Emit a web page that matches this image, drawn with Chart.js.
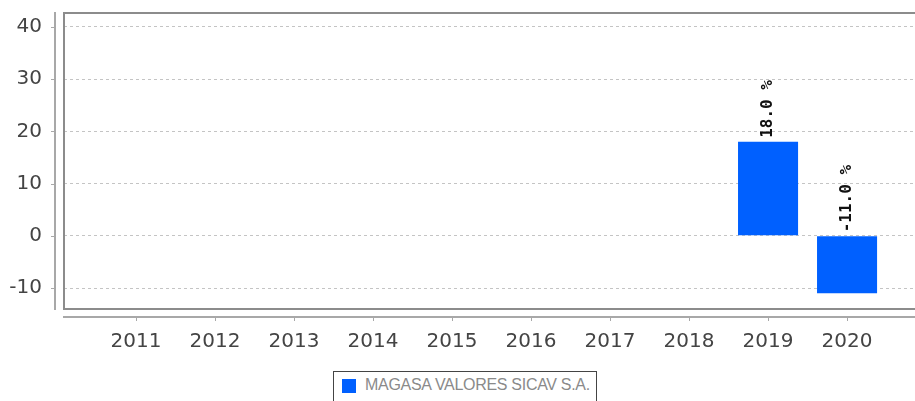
<!DOCTYPE html>
<html><head><meta charset="utf-8">
<script src="https://cdn.jsdelivr.net/npm/chart.js@4.4.0/dist/chart.umd.min.js"></script>
<style>
html,body{margin:0;padding:0;background:#fff;overflow:hidden}
#wrap{position:relative;width:915px;height:401px}
#c{position:absolute;left:0;top:0}
#legend{position:absolute;left:333px;top:371px;width:264px;height:40px;border:1px solid #444;box-sizing:border-box;font-family:"Liberation Sans",Arial,sans-serif;font-size:16px;letter-spacing:-0.3px;color:#8a8a8a;background:#fff}
#legend .sw{position:absolute;left:8px;top:7px;width:14px;height:14px;background:#0060ff}
#legend .tx{position:absolute;left:31px;top:4px;white-space:nowrap}
</style></head>
<body><div id="wrap"><canvas id="c" width="915" height="401"></canvas><div id="legend"><span class="sw"></span><span class="tx" id="lgtx"></span></div></div>
<script>
const years = [2011, 2012, 2013, 2014, 2015, 2016, 2017, 2018, 2019, 2020];
const values = [null, null, null, null, null, null, null, null, 18.0, -11.0];
const yTicks = [-10, 0, 10, 20, 30, 40];
const seriesName = 'MAGASA VALORES SICAV S.A.';

document.getElementById('lgtx').textContent = seriesName;

const decor = {
  id: 'decor',
  beforeDraw(chart) {
    const ctx = chart.ctx;
    ctx.save(); ctx.fillStyle = '#fff'; ctx.fillRect(0, 0, chart.width, chart.height); ctx.restore();
  },
  afterDatasetsDraw(chart) {
    const ctx = chart.ctx;
    const meta = chart.getDatasetMeta(0);
    ctx.save();
    ctx.fillStyle = '#111';
    ctx.font = 'bold 16px "DejaVu Sans Mono", monospace';
    meta.data.forEach((bar, i) => {
      if (values[i] == null) return;
      const top = Math.min(bar.y, bar.base);
      ctx.save();
      ctx.translate(bar.x, top - 4);
      ctx.rotate(-Math.PI / 2);
      ctx.textAlign = 'left';
      ctx.textBaseline = 'middle';
      ctx.fillText(values[i].toFixed(1) + ' %', 0, 0);
      ctx.restore();
    });
    ctx.restore();
  },
  afterDraw(chart) {
    const ctx = chart.ctx;
    const a = chart.chartArea;
    const x = chart.scales.x, y = chart.scales.y;
    ctx.save();
    // plot frame
    ctx.strokeStyle = '#8c8c8c'; ctx.lineWidth = 2;
    ctx.beginPath();
    ctx.moveTo(a.right + 2, a.top); ctx.lineTo(a.left, a.top);
    ctx.lineTo(a.left, a.bottom); ctx.lineTo(a.right + 2, a.bottom);
    ctx.stroke();
    // y axis line + ticks
    ctx.strokeStyle = '#a8a8a8'; ctx.lineWidth = 2;
    ctx.beginPath(); ctx.moveTo(a.left - 9, a.top - 1); ctx.lineTo(a.left - 9, a.bottom + 1); ctx.stroke();
    ctx.lineWidth = 1;
    yTicks.forEach(v => {
      const py = Math.round(y.getPixelForValue(v)) + 0.5;
      ctx.beginPath(); ctx.moveTo(a.left - 13, py); ctx.lineTo(a.left - 9, py); ctx.stroke();
    });
    // x axis line + ticks
    ctx.lineWidth = 2;
    ctx.beginPath(); ctx.moveTo(a.left - 1, a.bottom + 8); ctx.lineTo(a.right, a.bottom + 8); ctx.stroke();
    ctx.lineWidth = 1;
    years.forEach(v => {
      const px = Math.round(x.getPixelForValue(v)) + 0.5;
      ctx.beginPath(); ctx.moveTo(px, a.bottom + 8); ctx.lineTo(px, a.bottom + 12); ctx.stroke();
    });
    ctx.restore();
  }
};

new Chart(document.getElementById('c'), {
  type: 'bar',
  data: {
    datasets: [{
      label: seriesName,
      data: years.map((yr, i) => ({ x: yr, y: values[i] })),
      backgroundColor: '#0060ff',
      borderWidth: 0,
      barPercentage: 0.76,
      categoryPercentage: 1.0
    }]
  },
  options: {
    responsive: false,
    animation: false,
    devicePixelRatio: 1,
    layout: { padding: { top: 13, left: 0, right: 0, bottom: 0 } },
    plugins: { legend: { display: false }, tooltip: { enabled: false } },
    scales: {
      x: {
        type: 'linear',
        offset: false,
        min: 2010.089,
        max: 2020.86,
        afterBuildTicks(s) { s.ticks = years.map(v => ({ value: v })); },
        afterFit(s) { s.height = 92; s.paddingLeft = 0; s.paddingRight = 0; },
        grid: { display: false, drawTicks: false, offset: false },
        border: { display: false },
        ticks: {
          padding: 21,
          autoSkip: false,
          maxRotation: 0,
          color: '#444',
          font: { family: '"DejaVu Sans", sans-serif', size: 20 },
          callback: v => String(v)
        }
      },
      y: {
        min: -14.02,
        max: 42.68,
        afterBuildTicks(s) { s.ticks = yTicks.map(v => ({ value: v })); },
        afterFit(s) { s.width = 64; s.paddingTop = 0; s.paddingBottom = 0; },
        grid: { color: '#c4c4c4', lineWidth: 1, drawTicks: false },
        border: { display: false, dash: [3, 3] },
        ticks: {
          padding: 22,
          color: '#444',
          font: { family: '"DejaVu Sans", sans-serif', size: 20 },
          callback: v => String(v)
        }
      }
    }
  },
  plugins: [decor]
});
</script>
</body></html>
